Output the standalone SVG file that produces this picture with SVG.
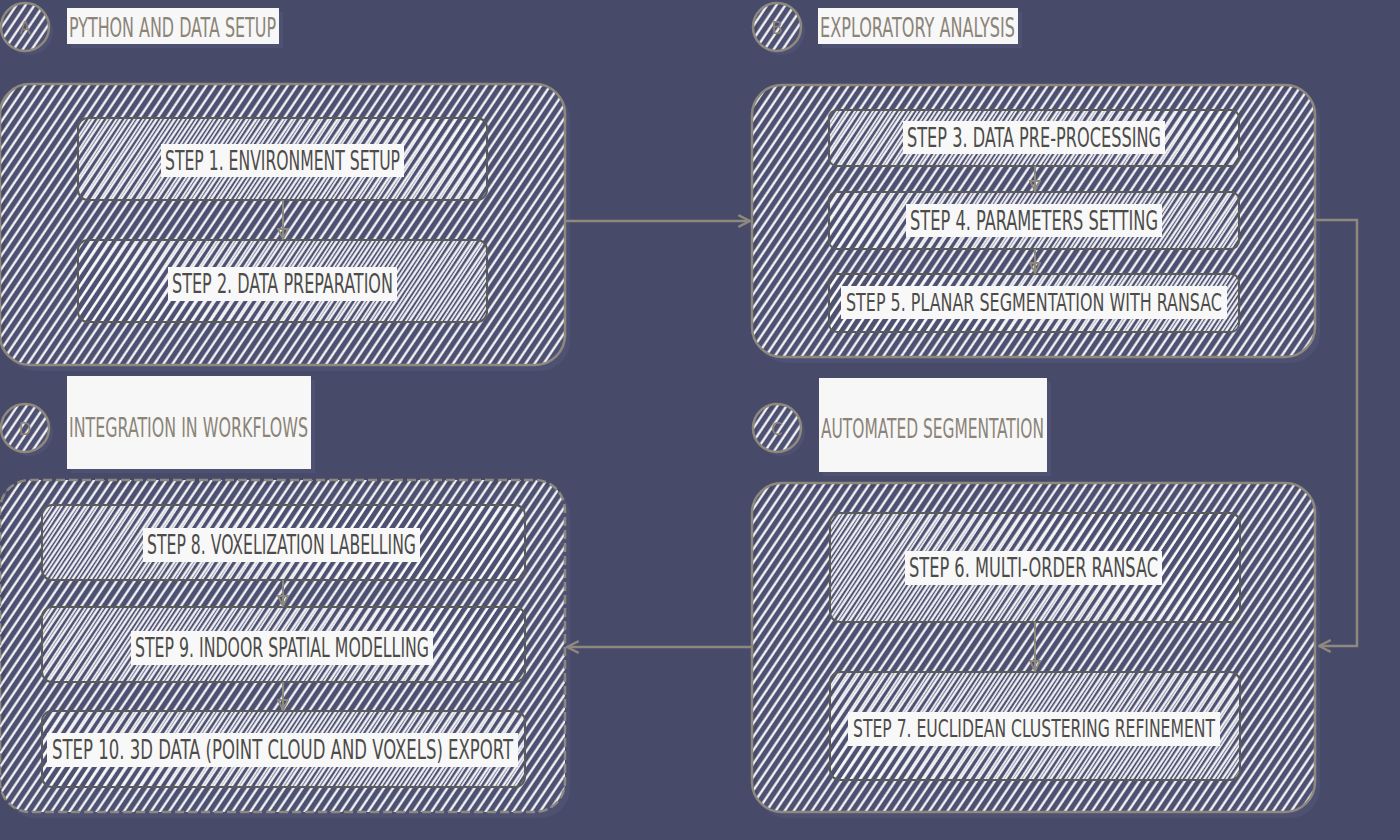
<svg xmlns="http://www.w3.org/2000/svg" width="1400" height="840" viewBox="0 0 1400 840">
<defs>
<pattern id="hatch" width="7.5" height="10" patternUnits="userSpaceOnUse" patternTransform="rotate(34)">
<line x1="1.5" y1="0" x2="1.5" y2="10" stroke="#ffffff" stroke-width="2.2"/>
</pattern>
<pattern id="hatch2" width="7.5" height="10" patternUnits="userSpaceOnUse" patternTransform="rotate(33) translate(4.2 0)">
<line x1="1" y1="0" x2="1" y2="10" stroke="#ffffff" stroke-width="1.8" stroke-opacity="0.9"/>
</pattern>
<marker id="arr" viewBox="0 0 12 12" refX="11" refY="6" markerWidth="14" markerHeight="14" markerUnits="userSpaceOnUse" orient="auto">
<path d="M1,1 L11,6 L1,11" fill="none" stroke="#8e897e" stroke-width="2"/>
</marker>
<marker id="arrs" viewBox="0 0 12 12" refX="11" refY="6" markerWidth="12" markerHeight="12" markerUnits="userSpaceOnUse" orient="auto">
<path d="M1,1 L11,6 L1,11 Z" fill="none" stroke="#8e897e" stroke-width="1.8"/>
</marker>
</defs>
<style>
.outer{fill:url(#hatch);stroke:#8e897e;stroke-width:2.5}
.shadow{fill:#55587a;opacity:0.55}
.dash{stroke-dasharray:9 4}
.inner{stroke:#5c5b5b;stroke-width:2}
.innerfill{fill:url(#hatch2)}
.tbg{fill:#f8f8f8}
.lbg{fill:#f7f7f7}
.step{font-family:"Liberation Sans Narrow","DejaVu Sans Condensed","Liberation Sans",sans-serif;font-size:27px;fill:#4d4c4a;text-anchor:middle}
.long{font-size:24px}
.title{font-family:"Liberation Sans Narrow","DejaVu Sans Condensed","Liberation Sans",sans-serif;font-size:27px;fill:#8b8477}
.circ{fill:url(#hatch);stroke:#8e897e;stroke-width:2.5}
.cl{font-family:"Liberation Sans Narrow","DejaVu Sans Condensed",sans-serif;font-size:18px;fill:#8b8477;text-anchor:middle}
.conn{fill:none;stroke:#8e897e;stroke-width:2.5}
.iconn{fill:none;stroke:#8e897e;stroke-width:2}
</style>
<rect width="1400" height="840" fill="#484a6a"/>

<g id="groupA">
<rect class="shadow" x="5" y="89" width="565" height="282" rx="30"/>
<rect class="outer" x="0" y="84" width="565" height="281" rx="30"/>
<circle class="shadow" cx="29" cy="31" r="24"/>
<circle class="circ" cx="25" cy="27" r="24"/>
<text class="cl" x="25" y="34">A</text>
<rect class="shadow" x="71" y="12" width="212" height="36"/>
<rect class="lbg" x="67" y="8" width="212" height="36"/>
<text class="title" x="69" y="37" textLength="207" lengthAdjust="spacingAndGlyphs">PYTHON AND DATA SETUP</text>
</g>

<g id="step1">
<rect class="innerfill inner" x="78" y="118" width="409" height="82" rx="10"/>
<rect class="tbg" x="161" y="144" width="243" height="33"/>
<text class="step" x="282.5" y="170" textLength="235" lengthAdjust="spacingAndGlyphs">STEP 1. ENVIRONMENT SETUP</text>
</g>
<g id="step2">
<rect class="innerfill inner" x="78" y="240" width="409" height="82" rx="10"/>
<rect class="tbg" x="168" y="267" width="229" height="34"/>
<text class="step" x="282.5" y="293" textLength="221" lengthAdjust="spacingAndGlyphs">STEP 2. DATA PREPARATION</text>
</g>

<g id="groupB">
<rect class="shadow" x="757" y="90" width="563" height="273" rx="30"/>
<rect class="outer" x="752" y="85" width="563" height="272" rx="30"/>
<circle class="shadow" cx="781" cy="31" r="24"/>
<circle class="circ" cx="777" cy="27" r="24"/>
<text class="cl" x="777" y="34">B</text>
<rect class="shadow" x="822" y="12" width="200" height="36"/>
<rect class="lbg" x="818" y="8" width="200" height="36"/>
<text class="title" x="820" y="37" textLength="195" lengthAdjust="spacingAndGlyphs">EXPLORATORY ANALYSIS</text>
</g>
<g id="step3">
<rect class="innerfill inner" x="829" y="110" width="410" height="56" rx="8"/>
<rect class="tbg" x="903" y="121" width="262" height="33"/>
<text class="step" x="1034" y="147" textLength="254" lengthAdjust="spacingAndGlyphs">STEP 3. DATA PRE-PROCESSING</text>
</g>
<g id="step4">
<rect class="innerfill inner" x="829" y="192" width="410" height="57" rx="8"/>
<rect class="tbg" x="906" y="204" width="256" height="33"/>
<text class="step" x="1034" y="230" textLength="248" lengthAdjust="spacingAndGlyphs">STEP 4. PARAMETERS SETTING</text>
</g>
<g id="step5">
<rect class="innerfill inner" x="829" y="274" width="410" height="58" rx="8"/>
<rect class="tbg" x="841" y="286" width="386" height="33"/>
<text class="step long" x="1034" y="311" textLength="376" lengthAdjust="spacingAndGlyphs">STEP 5. PLANAR SEGMENTATION WITH RANSAC</text>
</g>

<g id="groupC">
<rect class="shadow" x="757" y="488" width="563" height="330" rx="30"/>
<rect class="outer" x="752" y="483" width="563" height="329" rx="30"/>
<circle class="shadow" cx="781" cy="432" r="24"/>
<circle class="circ" cx="777" cy="428" r="24"/>
<text class="cl" x="777" y="435">C</text>
<rect class="shadow" x="823" y="382" width="228" height="94"/>
<rect class="lbg" x="819" y="378" width="228" height="94"/>
<text class="title" x="821" y="438" textLength="223" lengthAdjust="spacingAndGlyphs">AUTOMATED SEGMENTATION</text>
</g>
<g id="step6">
<rect class="innerfill inner" x="830" y="513" width="410" height="109" rx="10"/>
<rect class="tbg" x="905" y="551" width="257" height="34"/>
<text class="step" x="1033.5" y="577" textLength="249" lengthAdjust="spacingAndGlyphs">STEP 6. MULTI-ORDER RANSAC</text>
</g>
<g id="step7">
<rect class="innerfill inner" x="830" y="672" width="410" height="108" rx="10"/>
<rect class="tbg" x="848" y="712" width="372" height="34"/>
<text class="step long" x="1034" y="737" textLength="362" lengthAdjust="spacingAndGlyphs">STEP 7. EUCLIDEAN CLUSTERING REFINEMENT</text>
</g>

<g id="groupD">
<rect class="shadow" x="5" y="485" width="565" height="333" rx="30"/>
<rect class="outer dash" x="0" y="480" width="565" height="332" rx="30"/>
<circle class="shadow" cx="29" cy="432" r="24"/>
<circle class="circ" cx="25" cy="428" r="24"/>
<text class="cl" x="25" y="435">D</text>
<rect class="shadow" x="71" y="380" width="244" height="93"/>
<rect class="lbg" x="67" y="376" width="244" height="93"/>
<text class="title" x="69" y="437" textLength="239" lengthAdjust="spacingAndGlyphs">INTEGRATION IN WORKFLOWS</text>
</g>
<g id="step8">
<rect class="innerfill inner" x="42" y="505" width="483" height="75" rx="10"/>
<rect class="tbg" x="143" y="528" width="277" height="34"/>
<text class="step" x="281.5" y="554" textLength="269" lengthAdjust="spacingAndGlyphs">STEP 8. VOXELIZATION LABELLING</text>
</g>
<g id="step9">
<rect class="innerfill inner" x="42" y="607" width="483" height="75" rx="10"/>
<rect class="tbg" x="131" y="631" width="302" height="34"/>
<text class="step" x="282" y="657" textLength="294" lengthAdjust="spacingAndGlyphs">STEP 9. INDOOR SPATIAL MODELLING</text>
</g>
<g id="step10">
<rect class="innerfill inner" x="42" y="711" width="483" height="76" rx="10"/>
<rect class="tbg" x="47" y="733" width="471" height="34"/>
<text class="step" x="282.5" y="759" textLength="461" lengthAdjust="spacingAndGlyphs">STEP 10. 3D DATA (POINT CLOUD AND VOXELS) EXPORT</text>
</g>

<g id="connectors">
<path class="conn" d="M566,221 H750" marker-end="url(#arr)"/>
<path class="conn" d="M1316,220 H1357 V646 H1319" marker-end="url(#arr)"/>
<path class="conn" d="M752,647 H567" marker-end="url(#arr)"/>
<path class="iconn" d="M283,200 V239" marker-end="url(#arrs)"/>
<path class="iconn" d="M1035,166 V191" marker-end="url(#arrs)"/>
<path class="iconn" d="M1035,249 V273" marker-end="url(#arrs)"/>
<path class="iconn" d="M1035,622 V671" marker-end="url(#arrs)"/>
<path class="iconn" d="M283,580 V606" marker-end="url(#arrs)"/>
<path class="iconn" d="M283,682 V710" marker-end="url(#arrs)"/>
</g>
</svg>
